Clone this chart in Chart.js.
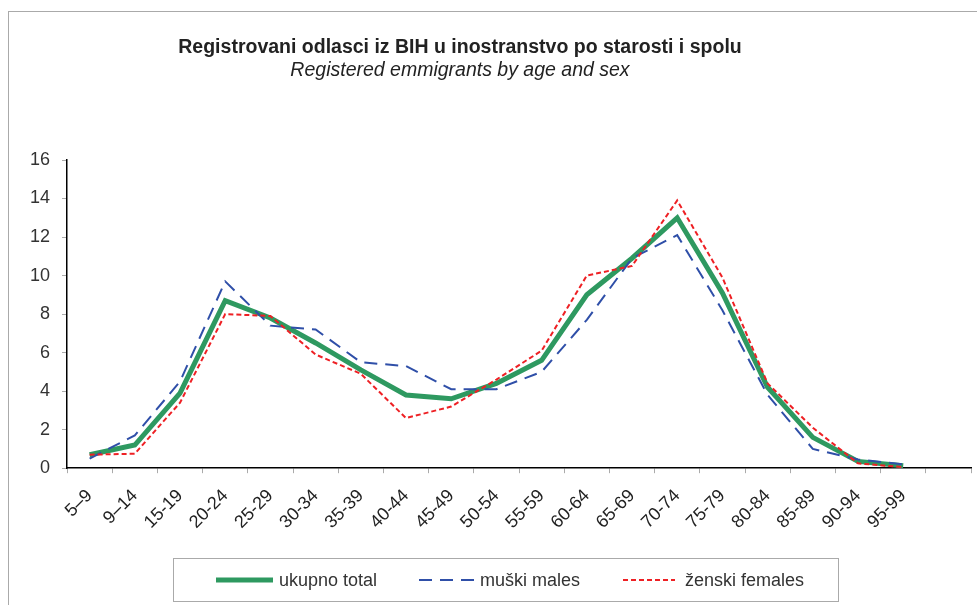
<!DOCTYPE html>
<html>
<head>
<meta charset="utf-8">
<script src="https://cdn.jsdelivr.net/npm/chart.js@4"></script>
<style>
  body { margin: 0; background: #fff; }
  #wrap { position: relative; width: 977px; height: 605px; overflow: hidden; font-family: "Liberation Sans", Arial, sans-serif; }
  #frame { position: absolute; left: 8px; top: 11px; width: 1000px; height: 700px; border-left: 1.5px solid #aaa; border-top: 1.5px solid #aaa; }
  canvas { position: absolute; left: 0; top: 0; }
  .title { position: absolute; left: 160px; width: 600px; text-align: center; color: #222; font-size: 19.5px; line-height: 24px; }
  #legend { position: absolute; left: 173px; top: 558px; width: 664px; height: 42px; border: 1px solid #aaa; }
  .item { position: absolute; top: 9px; font-size: 18px; line-height: 24px; color: #333; }
  .item svg { position: absolute; top: 0; }
</style>
</head>
<body>
<div id="wrap">
  <div id="frame"></div>
  <canvas id="myChart" width="977" height="605"></canvas>
  <div class="title" style="top:34px;font-weight:bold;">Registrovani odlasci iz BIH u inostranstvo po starosti i spolu</div>
  <div class="title" style="top:57px;font-style:italic;">Registered emmigrants by age and sex</div>
  <div id="legend">
    <div class="item" style="left:42px;"><svg width="58" height="24" style="left:0"><line x1="0" y1="12" x2="57" y2="12" stroke="#2e9960" stroke-width="5"/></svg><span style="position:absolute;left:63px;white-space:nowrap;">ukupno total</span></div>
    <div class="item" style="left:245px;"><svg width="58" height="24" style="left:0"><line x1="0" y1="12" x2="56" y2="12" stroke="#2f4fa8" stroke-width="2" stroke-dasharray="13,8"/></svg><span style="position:absolute;left:61px;white-space:nowrap;">muški males</span></div>
    <div class="item" style="left:449px;"><svg width="54" height="24" style="left:0"><line x1="0" y1="12" x2="52" y2="12" stroke="#ee2024" stroke-width="2" stroke-dasharray="5,3"/></svg><span style="position:absolute;left:62px;white-space:nowrap;">ženski females</span></div>
  </div>
</div>
<script>
document.addEventListener('DOMContentLoaded', function () {

// starosne grupe (zadnja kategorija je prazna)
const ageGroups = ['5–9', '9–14', '15-19', '20-24', '25-29', '30-34', '35-39', '40-44', '45-49', '50-54',
    '55-59', '60-64', '65-69', '70-74', '75-79', '80-84', '85-89', '90-94', '95-99', ''];

const total = [0.7, 1.2, 3.9, 8.7, 7.8, 6.5, 5.1, 3.8, 3.6, 4.4, 5.6, 9.0, 10.9, 13.0, 9.1, 4.2, 1.6, 0.35, 0.12, null];
const males = [0.5, 1.7, 4.5, 9.7, 7.4, 7.2, 5.5, 5.3, 4.1, 4.1, 5.0, 7.7, 10.9, 12.1, 8.2, 3.8, 1.0, 0.45, 0.2, null];
const females = [0.7, 0.75, 3.4, 8.0, 7.9, 5.9, 4.9, 2.6, 3.2, 4.6, 6.1, 10.0, 10.5, 13.9, 9.9, 4.4, 2.1, 0.25, 0.05, null];

const yTicks = [0, 2, 4, 6, 8, 10, 12, 14, 16];

const ctx = document.getElementById('myChart').getContext('2d');
new Chart(ctx, {
    type: 'line',
    data: {
        labels: ageGroups,
        datasets: [
            {
                label: 'ukupno total',
                data: total,
                borderColor: '#2e9960',
                borderWidth: 5,
                order: 3,
            },
            {
                label: 'muški males',
                data: males,
                borderColor: '#2f4fa8',
                borderWidth: 2,
                borderDash: [13, 8],
                order: 2,
            },
            {
                label: 'ženski females',
                data: females,
                borderColor: '#ee2024',
                borderWidth: 2,
                borderDash: [5, 3],
                order: 1,
            },
        ],
    },
    options: {
        responsive: false,
        devicePixelRatio: 1,
        animation: false,
        elements: {
            point: { radius: 0 },
            line: { tension: 0, borderJoinStyle: 'miter' },
        },
        layout: {
            padding: { left: 18, right: 6, top: 160, bottom: 60 },
        },
        plugins: {
            legend: { display: false },
            tooltip: { enabled: false },
        },
        scales: {
            x: {
                offset: true,
                afterFit: function (scale) {
                    // rotirane labele ne trebaju dodatni razmak lijevo
                    scale.paddingLeft = 0;
                    scale.paddingRight = 0;
                },
                grid: { offset: true, drawOnChartArea: false, tickLength: 5, color: '#aaa' },
                border: { color: '#000', width: 1.5 },
                ticks: {
                    autoSkip: false,
                    maxRotation: 45,
                    minRotation: 45,
                    padding: 12,
                    color: '#222',
                    font: { family: 'Liberation Sans', size: 18 },
                },
            },
            y: {
                min: 0,
                max: 16,
                afterBuildTicks: function (axis) {
                    axis.ticks = yTicks.map(v => ({ value: v }));
                },
                grid: { drawOnChartArea: false, tickLength: 5, color: '#aaa' },
                border: { color: '#000', width: 1.5 },
                ticks: {
                    padding: 12,
                    color: '#333',
                    font: { family: 'Liberation Sans', size: 18 },
                },
            },
        },
    },
});

});
</script>
</body>
</html>
